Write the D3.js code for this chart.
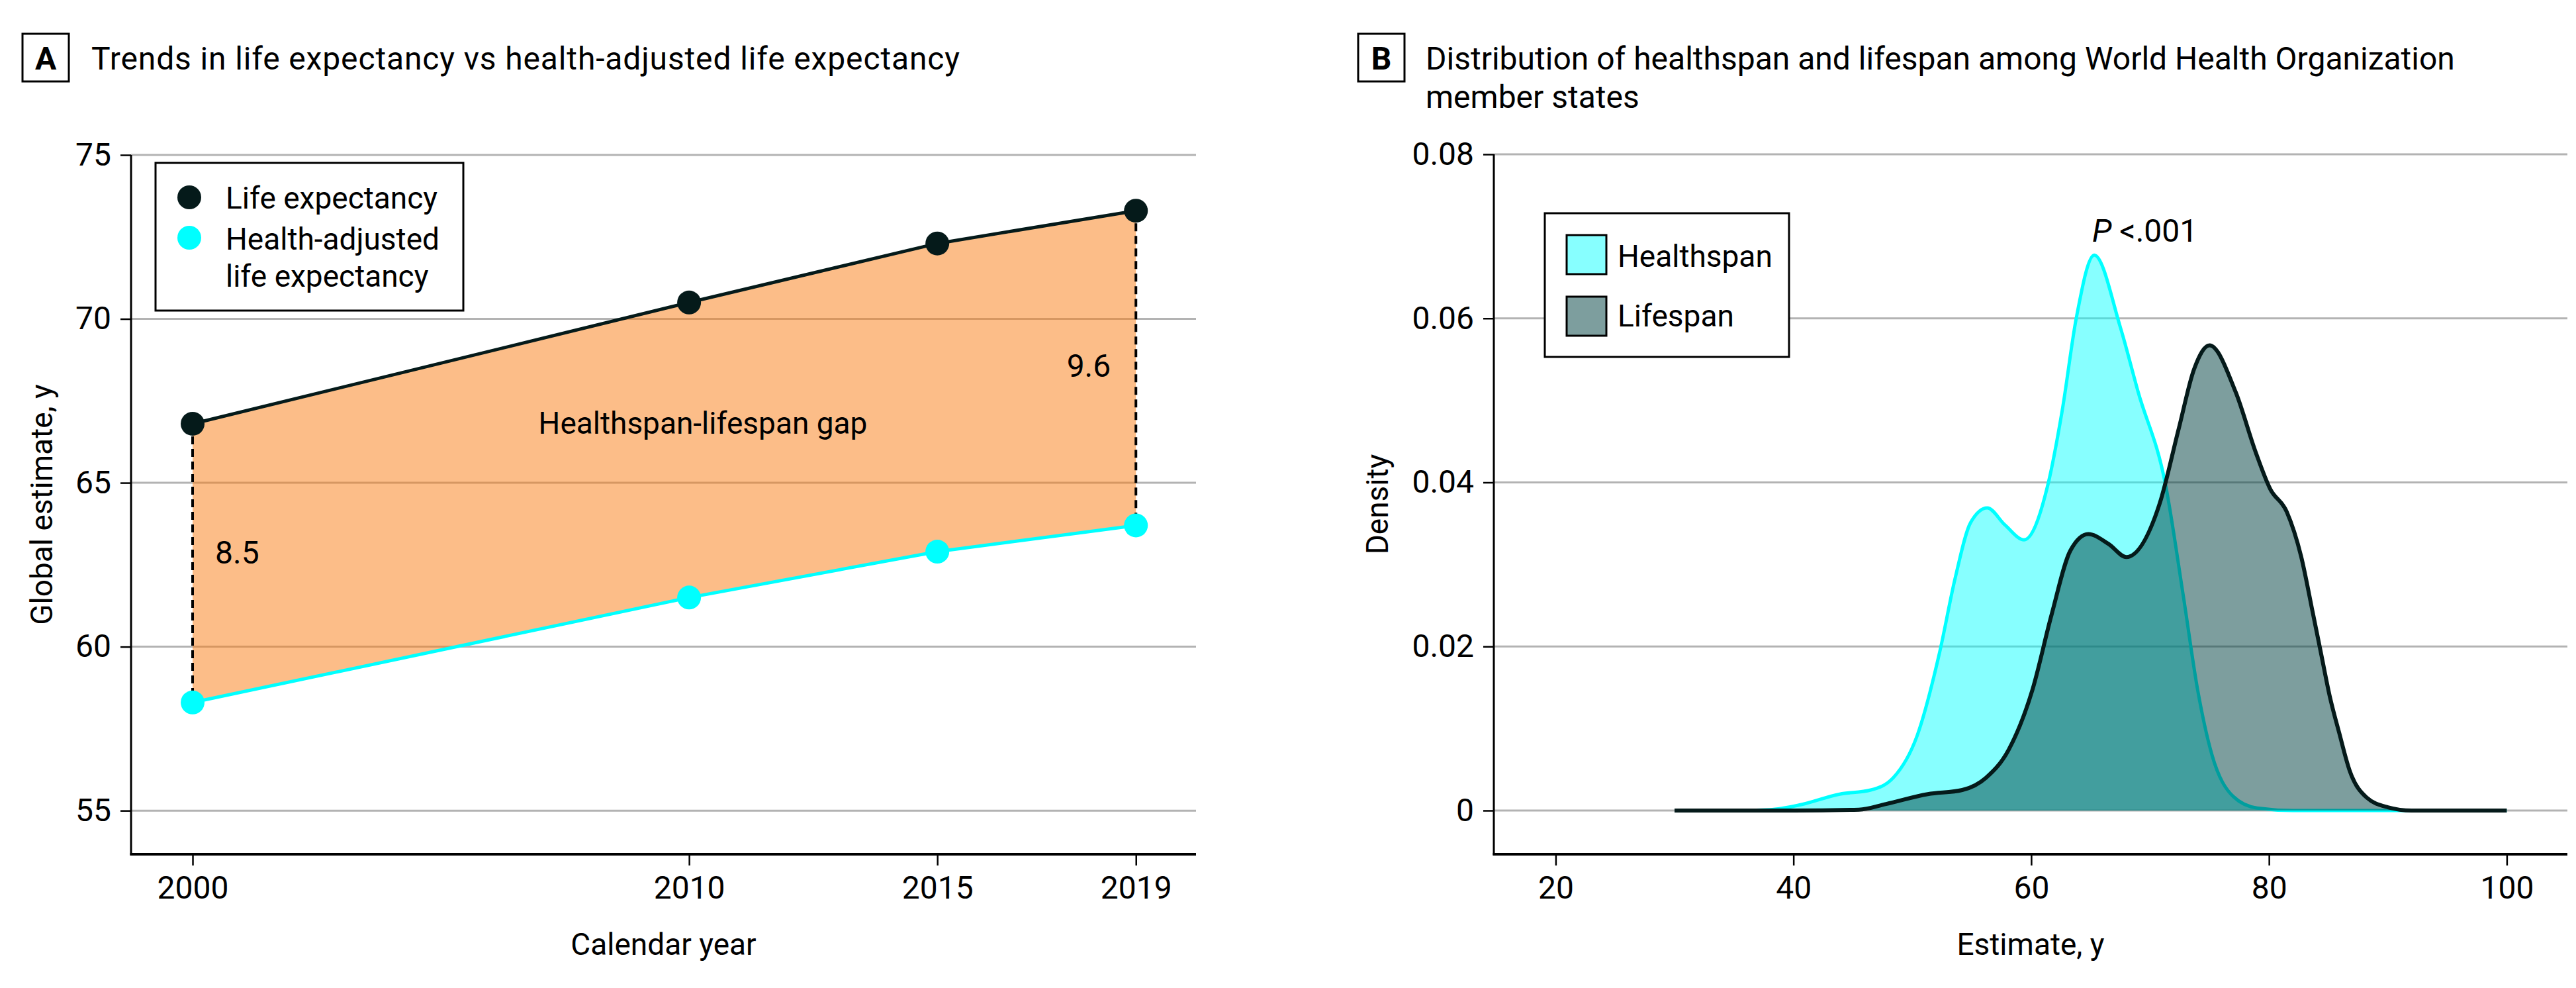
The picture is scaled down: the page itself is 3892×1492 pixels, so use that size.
<!DOCTYPE html>
<html><head><meta charset="utf-8">
<script src="https://cdn.jsdelivr.net/npm/d3@7"></script>
<style>
body{margin:0;background:#fff;}
svg{display:block;}
text{font-family:Roboto,"Noto Sans",sans-serif;fill:#000;}
</style>
</head><body>
<svg id="chart" width="3892" height="1492"></svg>
<script>
// ---------- Data ----------
const years = [2000, 2010, 2015, 2019];
const lifeExpectancy = [66.8, 70.5, 72.3, 73.3];
const healthAdjusted = [58.3, 61.5, 62.9, 63.7];
const gapYears = [2000, 2019];
const gapLabels = ["8.5", "9.6"];
const yTicksA = [55, 60, 65, 70, 75];
const xTicksA = [2000, 2010, 2015, 2019];

const xTicksB = [20, 40, 60, 80, 100];
const yTicksB = [0, 0.02, 0.04, 0.06, 0.08];
const yTickLabelsB = ["0", "0.02", "0.04", "0.06", "0.08"];

const healthspanX = [30, 35, 38.0, 40.6, 43.9, 46.5, 48.4, 50.4, 52.3, 53.6, 54.9, 56.3, 57.8, 59.4, 61.4, 62.6, 63.8, 65.3, 67.5, 69.0, 71.3, 72.8, 74.0, 75.2, 77.0, 79.0, 82, 90, 100];
const healthspanY = [0, 0, 0.0001, 0.0007, 0.0020, 0.0025, 0.0040, 0.0091, 0.0193, 0.0283, 0.0351, 0.0369, 0.0348, 0.0330, 0.0397, 0.0487, 0.0601, 0.0677, 0.0589, 0.0510, 0.0397, 0.0261, 0.0147, 0.0068, 0.0017, 0.0003, 0, 0, 0];

const lifespanX = [30, 40, 45.5, 47.8, 51.3, 54.2, 56.2, 58.1, 60.1, 61.7, 63.3, 64.8, 66.5, 68.0, 70.8, 72.4, 73.7, 75.0, 77.2, 78.9, 80.1, 81.5, 82.7, 83.7, 84.4, 85.1, 85.9, 86.8, 88.2, 90.0, 92, 100];
const lifespanY = [0, 0, 0.0001, 0.0008, 0.0020, 0.0025, 0.0040, 0.0074, 0.0147, 0.0238, 0.0317, 0.0337, 0.0325, 0.0309, 0.0374, 0.0465, 0.0538, 0.0567, 0.0510, 0.0436, 0.0392, 0.0364, 0.0310, 0.0240, 0.0190, 0.0140, 0.0095, 0.0048, 0.0016, 0.0004, 0, 0];

// ---------- Styles ----------
const DARK = "#051a1a";
const CYAN = "#00ffff";
const GRID = "#b3b3b3";
const FS = 48;   // numbers
const FT = 46;   // words

const svg = d3.select("#chart");
svg.append("rect").attr("width", 3892).attr("height", 1492).attr("fill", "#fff");

function panelTitle(x, letter, lines, textX, size, firstLen) {
  svg.append("rect").attr("x", x).attr("y", 51).attr("width", 70).attr("height", 72)
    .attr("fill", "none").attr("stroke", "#000").attr("stroke-width", 3);
  svg.append("text").attr("x", x + 35).attr("y", 105).attr("text-anchor", "middle")
    .attr("font-weight", "bold").attr("font-size", 48).text(letter);
  lines.forEach((l, i) => {
    const t = svg.append("text").attr("x", textX).attr("y", 105 + i * 58).attr("font-size", size).text(l);
    if (i === 0 && firstLen) t.attr("textLength", firstLen).attr("lengthAdjust", "spacing");
  });
}

function grid(g, x, y, yTicks) {
  const [x0, x1] = x.range();
  g.selectAll(".grid").data(yTicks).join("line")
    .attr("x1", x0).attr("x2", x1).attr("y1", d => y(d)).attr("y2", d => y(d))
    .attr("stroke", GRID).attr("stroke-width", 3);
}

function axes(g, x, y, xTicks, yTicks, yLabels, xTitle, yTitle, yTitleX) {
  const [x0, x1] = x.range();
  const [yb, yt] = y.range();
  const ya = g.append("g").attr("transform", `translate(${x0},0)`)
    .call(d3.axisLeft(y).tickValues(yTicks).tickSize(16).tickPadding(14)
      .tickFormat((d, i) => yLabels[i]));
  ya.select(".domain").remove();
  ya.selectAll(".tick line").attr("stroke", "#000").attr("stroke-width", 2.5);
  ya.selectAll(".tick text").attr("font-size", FS).attr("font-family", null).attr("fill", "#000");
  g.append("line").attr("x1", x0).attr("x2", x0).attr("y1", yt).attr("y2", yb + 1.5)
    .attr("stroke", "#000").attr("stroke-width", 3);

  const xa = g.append("g").attr("transform", `translate(0,${yb})`)
    .call(d3.axisBottom(x).tickValues(xTicks).tickSize(17).tickPadding(16).tickFormat(d3.format("d")));
  xa.select(".domain").remove();
  xa.selectAll(".tick line").attr("stroke", "#000").attr("stroke-width", 2.5);
  xa.selectAll(".tick text").attr("font-size", FS).attr("font-family", null).attr("fill", "#000");
  g.append("line").attr("x1", x0 - 1.5).attr("x2", x1).attr("y1", yb).attr("y2", yb)
    .attr("stroke", "#000").attr("stroke-width", 4);

  g.append("text").attr("x", (x0 + x1) / 2).attr("y", 1442).attr("text-anchor", "middle")
    .attr("font-size", FT).text(xTitle);
  g.append("text").attr("transform", `translate(${yTitleX},${(yb + yt) / 2}) rotate(-90)`)
    .attr("text-anchor", "middle").attr("font-size", FT).text(yTitle);
}

// ---------- Panel A ----------
panelTitle(34, "A", ["Trends in life expectancy vs health-adjusted life expectancy"], 138, 48, 1312);
const gA = svg.append("g");
const xA = d3.scaleLinear().domain([1998.76, 2020.21]).range([198, 1807]);
const yA = d3.scaleLinear().domain([53.67, 75]).range([1290, 234]);
grid(gA, xA, yA, yTicksA);

const rowsA = years.map((yr, i) => ({yr, le: lifeExpectancy[i], hale: healthAdjusted[i]}));
gA.append("path").datum(rowsA)
  .attr("d", d3.area().x(d => xA(d.yr)).y0(d => yA(d.hale)).y1(d => yA(d.le)))
  .attr("fill", "rgb(249,124,17)").attr("fill-opacity", 0.5);

gA.append("path").datum(rowsA).attr("d", d3.line().x(d => xA(d.yr)).y(d => yA(d.le)))
  .attr("fill", "none").attr("stroke", DARK).attr("stroke-width", 5);
gA.append("path").datum(rowsA).attr("d", d3.line().x(d => xA(d.yr)).y(d => yA(d.hale)))
  .attr("fill", "none").attr("stroke", CYAN).attr("stroke-width", 5);

gapYears.forEach(yr => {
  const r = rowsA.find(d => d.yr === yr);
  gA.append("line").attr("x1", xA(yr)).attr("x2", xA(yr)).attr("y1", yA(r.le)).attr("y2", yA(r.hale))
    .attr("stroke", "#000").attr("stroke-width", 4).attr("stroke-dasharray", "12,7");
});
gA.selectAll(".ptle").data(rowsA).join("circle")
  .attr("cx", d => xA(d.yr)).attr("cy", d => yA(d.le)).attr("r", 18).attr("fill", DARK);
gA.selectAll(".pthale").data(rowsA).join("circle")
  .attr("cx", d => xA(d.yr)).attr("cy", d => yA(d.hale)).attr("r", 18).attr("fill", CYAN);

// gap labels
const r0 = rowsA[0], r3 = rowsA[rowsA.length - 1];
gA.append("text").attr("x", xA(r0.yr) + 34).attr("y", yA((r0.le + r0.hale) / 2) + 1)
  .attr("font-size", FS).text(gapLabels[0]);
gA.append("text").attr("x", xA(r3.yr) - 38).attr("y", yA((r3.le + r3.hale) / 2) + 13)
  .attr("text-anchor", "end").attr("font-size", FS).text(gapLabels[1]);
gA.append("text").attr("x", 1062).attr("y", 655).attr("text-anchor", "middle")
  .attr("font-size", FT).text("Healthspan-lifespan gap");

axes(gA, xA, yA, xTicksA, yTicksA, yTicksA.map(String), "Calendar year", "Global estimate, y", 79);

// legend A
gA.append("rect").attr("x", 235).attr("y", 246).attr("width", 465).attr("height", 223)
  .attr("fill", "#fff").attr("stroke", "#000").attr("stroke-width", 3);
gA.append("circle").attr("cx", 286).attr("cy", 298).attr("r", 18).attr("fill", DARK);
gA.append("circle").attr("cx", 286).attr("cy", 359).attr("r", 18).attr("fill", CYAN);
[["Life expectancy", 315], ["Health-adjusted", 377], ["life expectancy", 433]].forEach(([t, y]) => {
  gA.append("text").attr("x", 341).attr("y", y).attr("font-size", FT).text(t);
});

// ---------- Panel B ----------
panelTitle(2052, "B", ["Distribution of healthspan and lifespan among World Health Organization", "member states"], 2154, 48);
const gB = svg.append("g");
const xB = d3.scaleLinear().domain([14.8, 105.1]).range([2257, 3879]);
const yB = d3.scaleLinear().domain([-0.00533, 0.08]).range([1290, 233]);
grid(gB, xB, yB, yTicksB);

const hs = healthspanX.map((x, i) => ({x, y: healthspanY[i]}));
const ls = lifespanX.map((x, i) => ({x, y: lifespanY[i]}));
const areaB = d3.area().curve(d3.curveMonotoneX).x(d => xB(d.x)).y0(yB(0)).y1(d => yB(d.y));
const lineB = d3.line().curve(d3.curveMonotoneX).x(d => xB(d.x)).y(d => yB(d.y));

gB.append("path").datum(hs).attr("d", areaB).attr("fill", CYAN).attr("fill-opacity", 0.47);
gB.append("path").datum(hs).attr("d", lineB).attr("fill", "none").attr("stroke", CYAN).attr("stroke-width", 5);
gB.append("path").datum(ls).attr("d", areaB).attr("fill", "rgb(0,64,64)").attr("fill-opacity", 0.51);
gB.append("path").datum(ls).attr("d", lineB).attr("fill", "none").attr("stroke", DARK).attr("stroke-width", 6);

axes(gB, xB, yB, xTicksB, yTicksB, yTickLabelsB, "Estimate, y", "Density", 2097);

// P value
const pt = gB.append("text").attr("x", 3161).attr("y", 365).attr("font-size", FS);
pt.append("tspan").attr("font-style", "italic").text("P");
pt.append("tspan").text(" <.001");

// legend B
gB.append("rect").attr("x", 2334).attr("y", 322).attr("width", 369).attr("height", 217)
  .attr("fill", "#fff").attr("stroke", "#000").attr("stroke-width", 3);
gB.append("rect").attr("x", 2367).attr("y", 355).attr("width", 60).attr("height", 59)
  .attr("fill", CYAN).attr("fill-opacity", 0.47).attr("stroke", "#000").attr("stroke-width", 3);
gB.append("rect").attr("x", 2367).attr("y", 448).attr("width", 60).attr("height", 59)
  .attr("fill", "rgb(0,64,64)").attr("fill-opacity", 0.51).attr("stroke", "#000").attr("stroke-width", 3);
gB.append("text").attr("x", 2444).attr("y", 403).attr("font-size", FT).text("Healthspan");
gB.append("text").attr("x", 2444).attr("y", 493).attr("font-size", FT).text("Lifespan");
</script>
</body></html>
